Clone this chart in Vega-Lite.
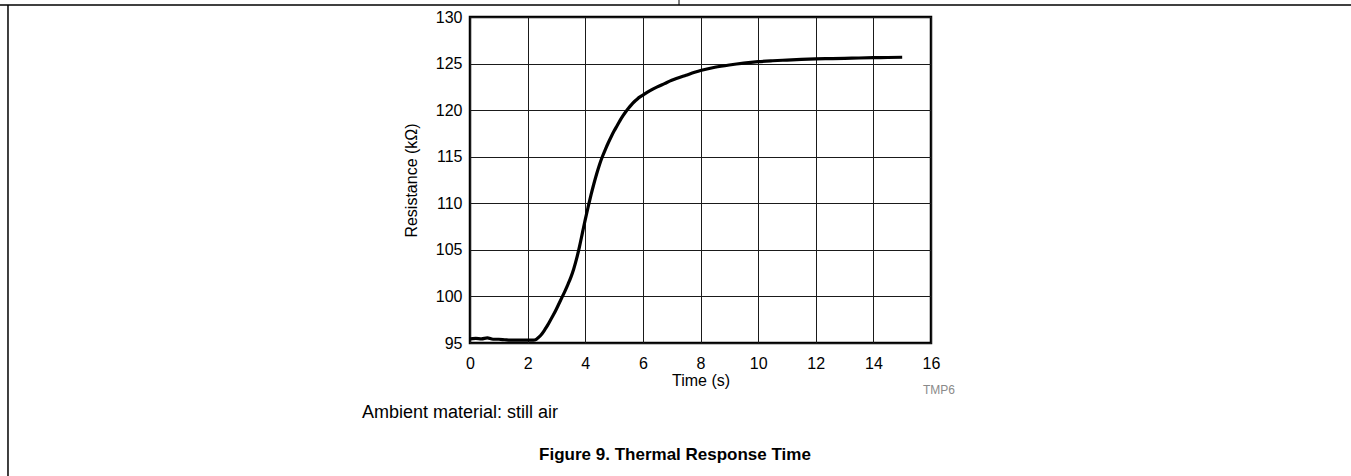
{
  "$schema": "https://vega.github.io/schema/vega-lite/v6.json",
  "width": 461,
  "height": 326,
  "autosize": {"type": "none"},
  "padding": {"left": 470, "top": 17, "right": 420, "bottom": 133},
  "background": "white",
  "config": {
    "view": {"stroke": "#000", "strokeWidth": 2.5},
    "axis": {
      "ticks": false,
      "domain": false,
      "grid": true,
      "gridColor": "#1a1a1a",
      "gridOpacity": 1,
      "gridWidth": 1,
      "labelFont": "Liberation Sans",
      "labelFontSize": 16,
      "labelColor": "#000",
      "labelOverlap": false,
      "titleFont": "Liberation Sans",
      "titleFontSize": 16,
      "titleFontWeight": "normal",
      "titleColor": "#000"
    }
  },
  "layer": [
    {
      "data": {
        "values": [
          {"t": 0, "R": 95.45}, {"t": 0.2, "R": 95.5}, {"t": 0.4, "R": 95.45}, {"t": 0.6, "R": 95.55},
          {"t": 0.8, "R": 95.4}, {"t": 1.0, "R": 95.4}, {"t": 1.2, "R": 95.35}, {"t": 1.4, "R": 95.3},
          {"t": 1.6, "R": 95.3}, {"t": 1.8, "R": 95.3}, {"t": 2.0, "R": 95.3}, {"t": 2.2, "R": 95.3},
          {"t": 2.3, "R": 95.4}, {"t": 2.4, "R": 95.65}, {"t": 2.5, "R": 96.0}, {"t": 2.6, "R": 96.45},
          {"t": 2.7, "R": 96.95}, {"t": 2.8, "R": 97.5}, {"t": 2.9, "R": 98.05}, {"t": 3.0, "R": 98.65},
          {"t": 3.1, "R": 99.3}, {"t": 3.2, "R": 99.95}, {"t": 3.3, "R": 100.6}, {"t": 3.4, "R": 101.3},
          {"t": 3.5, "R": 102.05}, {"t": 3.6, "R": 102.95}, {"t": 3.7, "R": 104.05}, {"t": 3.8, "R": 105.35},
          {"t": 3.9, "R": 106.8}, {"t": 4.0, "R": 108.25}, {"t": 4.1, "R": 109.6}, {"t": 4.2, "R": 110.9},
          {"t": 4.3, "R": 112.1}, {"t": 4.4, "R": 113.2}, {"t": 4.5, "R": 114.2}, {"t": 4.6, "R": 115.05},
          {"t": 4.7, "R": 115.8}, {"t": 4.8, "R": 116.5}, {"t": 4.9, "R": 117.15}, {"t": 5.0, "R": 117.75},
          {"t": 5.1, "R": 118.3}, {"t": 5.2, "R": 118.85}, {"t": 5.3, "R": 119.35}, {"t": 5.4, "R": 119.8},
          {"t": 5.5, "R": 120.2}, {"t": 5.6, "R": 120.57}, {"t": 5.7, "R": 120.9}, {"t": 5.8, "R": 121.18},
          {"t": 5.9, "R": 121.42}, {"t": 6.0, "R": 121.62}, {"t": 6.25, "R": 122.1}, {"t": 6.5, "R": 122.5},
          {"t": 6.75, "R": 122.85}, {"t": 7.0, "R": 123.2}, {"t": 7.5, "R": 123.75}, {"t": 8.0, "R": 124.25},
          {"t": 8.5, "R": 124.6}, {"t": 9.0, "R": 124.85}, {"t": 9.5, "R": 125.05}, {"t": 10.0, "R": 125.2},
          {"t": 10.5, "R": 125.3}, {"t": 11.0, "R": 125.38}, {"t": 11.5, "R": 125.45}, {"t": 12.0, "R": 125.5},
          {"t": 12.5, "R": 125.53}, {"t": 13.0, "R": 125.56}, {"t": 13.5, "R": 125.6}, {"t": 14.0, "R": 125.63},
          {"t": 14.5, "R": 125.65}, {"t": 15.0, "R": 125.68}
        ]
      },
      "mark": {"type": "line", "strokeWidth": 3.2, "color": "#000", "interpolate": "monotone"},
      "encoding": {
        "x": {"field": "t", "type": "quantitative", "scale": {"domain": [0, 16], "nice": false},
              "axis": {"values": [0, 2, 4, 6, 8, 10, 12, 14, 16], "title": "Time (s)", "labelPadding": 12, "labelFlush": false, "titlePadding": 1}},
        "y": {"field": "R", "type": "quantitative", "scale": {"domain": [95, 130], "nice": false, "zero": false},
              "axis": {"values": [95, 100, 105, 110, 115, 120, 125, 130], "title": "Resistance (kΩ)", "labelPadding": 8, "titlePadding": 16}}
      }
    },
    {
      "data": {"values": [{"label": "Ambient material: still air"}]},
      "mark": {"type": "text", "align": "left", "baseline": "alphabetic", "font": "Liberation Sans", "fontSize": 18, "fill": "#000"},
      "encoding": {"text": {"field": "label"}, "x": {"datum": -3.748, "type": "quantitative"}, "y": {"datum": 86.95, "type": "quantitative"}}
    },
    {
      "data": {"values": [{"label": "Figure 9. Thermal Response Time"}]},
      "mark": {"type": "text", "align": "center", "baseline": "alphabetic", "font": "Liberation Sans", "fontSize": 17, "fontWeight": "bold", "fill": "#000"},
      "encoding": {"text": {"field": "label"}, "x": {"datum": 7.115, "type": "quantitative"}, "y": {"datum": 82.44, "type": "quantitative"}}
    },
    {
      "data": {"values": [{"label": "TMP6"}]},
      "mark": {"type": "text", "align": "center", "baseline": "middle", "font": "Liberation Sans", "fontSize": 12, "fill": "#8a8a8a"},
      "encoding": {"text": {"field": "label"}, "x": {"datum": 16.278, "type": "quantitative"}, "y": {"datum": 89.95, "type": "quantitative"}}
    },
    {
      "data": {"values": [{}]},
      "mark": {"type": "rule", "color": "#000", "strokeWidth": 1.5},
      "encoding": {"x": {"datum": -16.312, "type": "quantitative"}, "x2": {"datum": 30.577}, "y": {"datum": 131.29, "type": "quantitative"}}
    },
    {
      "data": {"values": [{}]},
      "mark": {"type": "rule", "color": "#000", "strokeWidth": 1.5},
      "encoding": {"x": {"datum": -16.035, "type": "quantitative"}, "y": {"datum": 131.29, "type": "quantitative"}, "y2": {"datum": 80.72}}
    },
    {
      "data": {"values": [{}]},
      "mark": {"type": "rule", "color": "#000", "strokeWidth": 1},
      "encoding": {"x": {"datum": 7.254, "type": "quantitative"}, "y": {"datum": 131.83, "type": "quantitative"}, "y2": {"datum": 131.29}}
    }
  ]
}
